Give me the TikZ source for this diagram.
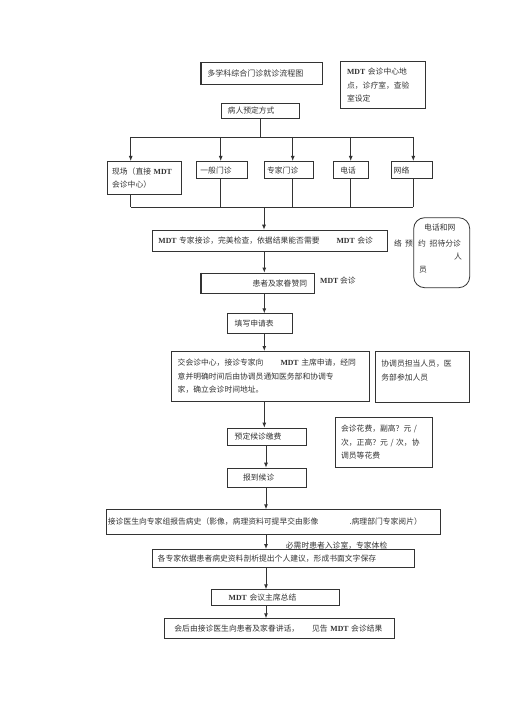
\documentclass[tikz,border=0pt]{standalone}
\usepackage{fontspec}
\setmainfont{Noto Sans CJK SC}
\newfontfamily\mdtf{Liberation Serif}
\newcommand\MDT{{\mdtf\bfseries MDT}}
\usetikzlibrary{arrows.meta}
\definecolor{linec}{gray}{0.2}
\definecolor{txtc}{gray}{0.2}
\begin{document}
\begin{tikzpicture}[x=1pt,y=-1pt,
  every node/.style={font=\fontsize{7.8}{13.5}\selectfont, text=txtc},
  box/.style={draw=linec, line width=0.8pt, inner ysep=0pt, anchor=north west, align=left},
  ln/.style={draw=linec, line width=0.9pt},
  arr/.style={draw=linec, line width=0.9pt, -{Latex[length=5pt,width=4pt]}},
  lbl/.style={anchor=west, inner sep=0pt},
]
\useasboundingbox (0,0) rectangle (505,714);

% top row
\node[box, minimum width=121pt, minimum height=22pt, text width=108.4pt, inner xsep=6.3pt, font=\fontsize{8}{13.5}\selectfont] (title) at (200.7,62.3) {多学科综合门诊就诊流程图};
\draw[linec, line width=2pt] (title.north west) -- (title.south west);
\node[box, minimum width=85pt, minimum height=47.3pt, text width=71.6pt, inner xsep=6.7pt] (center) at (340,61) {\MDT{} 会诊中心地\\点，诊疗室，查验\\室设定};
\node[box, minimum width=78.3pt, minimum height=15.6pt, text width=65.1pt, inner xsep=6.6pt] (book) at (220.7,102.7) {病人预定方式};

% five ways
\node[box, minimum width=73.7pt, minimum height=33pt, text width=64.9pt, inner xsep=4.4pt] (xc) at (107.3,161) {现场（直接 \MDT\\会诊中心）};
\node[box, minimum width=50.7pt, minimum height=17.3pt, text width=42.7pt, inner xsep=4pt] (yb) at (196,161) {一般门诊};
\node[box, minimum width=49pt, minimum height=17.3pt, text width=44.2pt, inner xsep=2.4pt] (zj) at (264.3,161) {专家门诊};
\node[box, minimum width=35pt, minimum height=17.3pt, text width=21.6pt, inner xsep=6.7pt] (dh) at (333.3,161) {电话};
\node[box, minimum width=40.7pt, minimum height=17.3pt, text width=36.1pt, inner xsep=2.3pt] (wl) at (391,161) {网络};

% expert reception
\node[box, minimum width=234.4pt, minimum height=21pt, text width=223pt, inner xsep=5.7pt] (mdt) at (152.3,229.7) {\MDT{} 专家接诊，完美检查，依据结果能否需要\hspace{17pt}\MDT{} 会诊};
\node[draw=linec, line width=0.8pt, rounded corners=11pt, minimum width=56pt, minimum height=70pt, inner sep=0pt, anchor=north west] (phone) at (413.3,217.3) {};
\node[lbl] (ph1) at (424,227.3) {电话和网};
\node[lbl] (ph2a) at (394,243.3) {络};
\node[lbl] (ph2b) at (405,243.3) {预};
\node[lbl] (ph2c) at (418,243.3) {约};
\node[lbl] (ph2d) at (429.5,243.3) {招待分诊};
\node[lbl] (ph3) at (454,256.7) {人};
\node[lbl] (ph4) at (419,270) {员};

\node[box, minimum width=113pt, minimum height=20pt, text width=98.4pt, inner xsep=7.3pt, align=right] (hz) at (201,272.7) {患者及家眷赞同};
\draw[linec, line width=2pt] (hz.north west) -- (hz.south west);
\node[lbl] (hzl) at (320,280.7) {\MDT{} 会诊};

\node[box, minimum width=65.6pt, minimum height=19.4pt, text width=50.4pt, inner xsep=7.6pt] (tx) at (226.7,313.3) {填写申请表};

\node[box, minimum width=198.6pt, minimum height=50pt, text width=185.4pt, inner xsep=6.6pt] (jh) at (170.7,351) {交会诊中心，接诊专家向\hspace{17pt}\MDT{} 主席申请，经同\\意并明确时间后由协调员通知医务部和协调专\\家，确立会诊时间地址。};
\node[box, minimum width=94.3pt, minimum height=50.7pt, text width=82.3pt, inner xsep=6pt] (xt) at (375,351) {协调员担当人员，医\\务部参加人员\\\mbox{}};

\node[box, minimum width=96.7pt, minimum height=50pt, text width=85.3pt, inner xsep=5.7pt] (hf) at (335,416.7) {会诊花费，副高？元 /\\次，正高？元 / 次，协\\调员等花费};
\node[box, minimum width=78.4pt, minimum height=17.3pt, text width=64.4pt, inner xsep=7pt] (yd) at (227.3,427.7) {预定候诊缴费};
\node[box, minimum width=78.7pt, minimum height=19pt, text width=47.9pt, inner xsep=15.4pt] (bd) at (227.3,467.7) {报到候诊};

\node[box, minimum width=334pt, minimum height=24.7pt, text width=331pt, inner xsep=1.5pt] (jz) at (106,509.3) {接诊医生向专家组报告病史（影像，病理资料可提早交由影像\hspace{31pt}.病理部门专家阅片）};
\node[box, minimum width=262pt, minimum height=18.3pt, text width=252pt, inner xsep=5pt] (gz) at (152.3,549) {各专家依据患者病史资料剖析提出个人建议，形成书面文字保存};
\node[lbl] (tj) at (285.7,545.2) {必需时患者入诊室，专家体检};
\node[box, minimum width=128.6pt, minimum height=15.7pt, text width=93.4pt, inner xsep=17.6pt] (hy) at (210.7,589.3) {\MDT{} 会议主席总结};
\node[box, minimum width=230pt, minimum height=19.4pt, text width=210pt, inner xsep=10pt] (hh) at (164,618.3) {会后由接诊医生向患者及家眷讲话，\hspace{13pt}见告 \MDT{} 会诊结果};

% bus 1
\coordinate (t1) at (130.7,137);
\coordinate (t2) at (220.7,137);
\coordinate (t3) at (292.7,137);
\coordinate (t4) at (350.7,137);
\coordinate (t5) at (413.3,137);
\draw[ln] (book.south) -- (book.south |- t1);
\draw[ln] (t1) -- (t5);
\draw[arr] (t1) -- (t1 |- xc.north);
\draw[arr] (t2) -- (t2 |- yb.north);
\draw[arr] (t3) -- (t3 |- zj.north);
\draw[arr] (t4) -- (t4 |- dh.north);
\draw[arr] (t5) -- (t5 |- wl.north);

% bus 2
\coordinate (b1) at (130.7,207.3);
\coordinate (b2) at (220.7,207.3);
\coordinate (b3) at (292.7,207.3);
\coordinate (b4) at (350.7,207.3);
\coordinate (b5) at (413.3,207.3);
\coordinate (b0) at (264,207.3);
\draw[ln] (b1 |- xc.south) -- (b1);
\draw[ln] (b2 |- yb.south) -- (b2);
\draw[ln] (b3 |- zj.south) -- (b3);
\draw[ln] (b4 |- dh.south) -- (b4);
\draw[ln] (b5 |- wl.south) -- (b5);
\draw[ln] (b1) -- (b5);
\draw[arr] (b0) -- (b0 |- mdt.north);

% main chain
\coordinate (c1) at (264.3,0);
\coordinate (c2) at (266,0);
\draw[arr] (c1 |- mdt.south) -- (c1 |- hz.north);
\draw[arr] (c1 |- hz.south) -- (c1 |- tx.north);
\draw[arr] (c1 |- tx.south) -- (c1 |- jh.north);
\draw[arr] (c1 |- jh.south) -- (c1 |- yd.north);
\draw[arr] (c2 |- yd.south) -- (c2 |- bd.north);
\draw[arr] (c2 |- bd.south) -- (c2 |- jz.north);
\draw[arr] (c2 |- jz.south) -- (c2 |- gz.north);
\draw[arr] (c2 |- gz.south) -- (c2 |- hy.north);
\draw[arr] (c2 |- hy.south) -- (c2 |- hh.north);
\end{tikzpicture}
\end{document}
